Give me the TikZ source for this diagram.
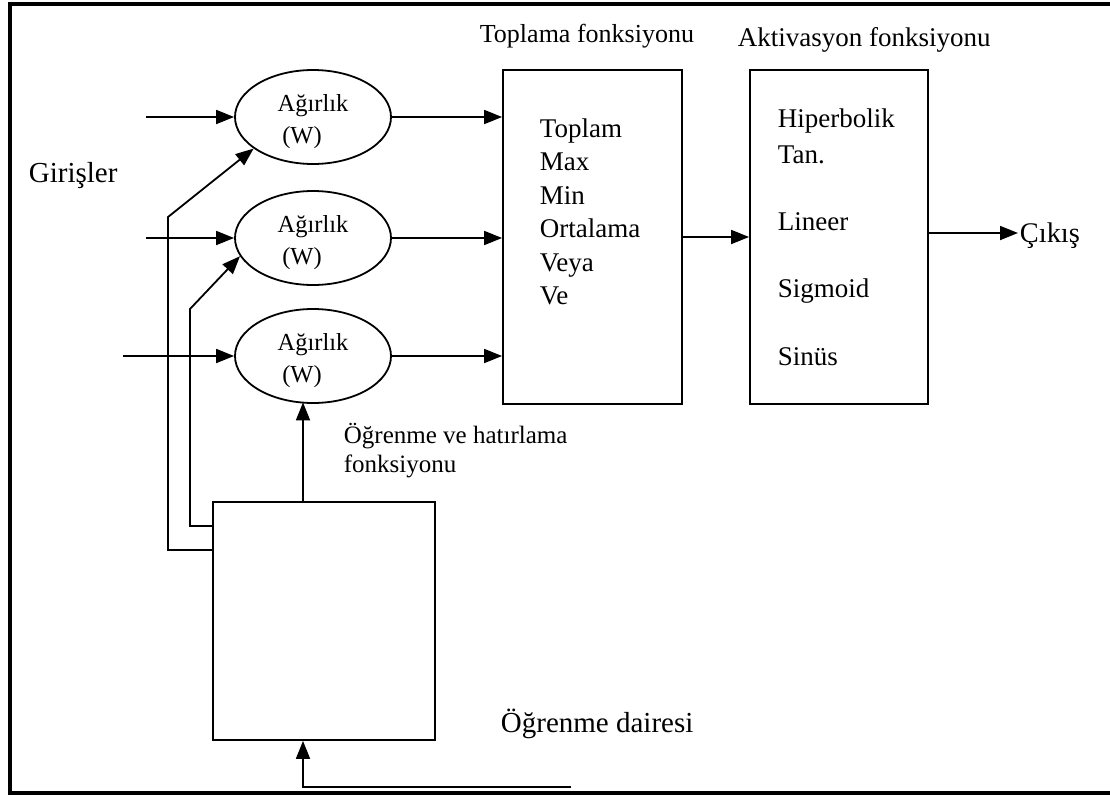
\documentclass[tikz,border=0pt]{standalone}
\usepackage{fontspec}
\setmainfont{Liberation Serif}
\usetikzlibrary{arrows.meta,shapes.geometric,calc}

\begin{document}
\begin{tikzpicture}[x=1pt,y=-1pt,
  line width=1.8pt,
  arr/.style={-{Triangle[length=18pt,width=14pt]}},
  wnode/.style={draw,ellipse,minimum width=156pt,minimum height=94pt,inner sep=0pt,
    align=center,font=\fontsize{24.5}{32}\selectfont},
  box/.style={draw,rectangle,inner sep=0pt},
  lbl/.style={inner sep=0pt,anchor=base west},
  fs/.style={font=\fontsize{#1}{#1}\selectfont},
]
\useasboundingbox (0,0) rectangle (1110,797);

% frame (open on the right)
\draw[line width=3.8pt] (1115,4) -- (10,4) -- (10,793) -- (1115,793);

% weight ellipses
\newcommand\wtext{\rule{0pt}{26.5pt}Ağırlık\\(W)\hspace*{22pt}}
\node[wnode] (w1) at (313,117) {\wtext};
\node[wnode] (w2) at (313,238) {\wtext};
\node[wnode] (w3) at (313,356) {\wtext};

% summation and activation boxes
\node[box,minimum width=179pt,minimum height=334pt] (sum) at (592.5,237) {};
\node[box,minimum width=178pt,minimum height=334pt] (act) at (839,237) {};

% learning box
\node[box,minimum width=222pt,minimum height=238pt] (learn) at (324,621) {};

% free ends
\coordinate (in1) at (146,117);
\coordinate (in2) at (146,238);
\coordinate (in3) at (123,356);
\coordinate (out) at (1018,233);
\coordinate (fb) at (571,787);
\coordinate (lx) at (303,0);

% inputs to weights
\draw[arr] (in1) -- (w1.west);
\draw[arr] (in2) -- (w2.west);
\draw[arr] (in3) -- (w3.west);

% weights to summation
\draw[arr] (w1.east) -- (w1.east -| sum.west);
\draw[arr] (w2.east) -- (w2.east -| sum.west);
\draw[arr] (w3.east) -- (w3.east -| sum.west);

% summation to activation, activation to output
\draw[arr] (sum.east) -- (act.west);
\draw[arr] (act.east |- out) -- (out);

% learning feedback
\draw[arr] (learn.north -| lx) -- ($(w3.south -| lx)+(0,-1.5)$);
\draw[arr] (fb) -- (fb -| lx) -- (learn.south -| lx);
\draw[arr] (learn.west |- 0,526) -- (190,526) -- (190,309) -- (w2.{-166});
\draw[arr] (learn.west |- 0,550) -- (168,550) -- (168,217) -- (w1.{-152});

% texts
\node[lbl,fs=29] (giris) at (28,182) {Girişler};
\node[lbl,fs=26] (tfon) at (479,43) {Toplama fonksiyonu};
\node[lbl,fs=27] (afon) at (737,47) {Aktivasyon fonksiyonu};
\node[lbl,fs=28.4] (cikis) at (1019,242) {Çıkış};

\node[lbl,fs=27] (s1) at (539,137) {Toplam};
\node[lbl,fs=27] (s2) at (539,170) {Max};
\node[lbl,fs=27] (s3) at (539,204) {Min};
\node[lbl,fs=27] (s4) at (539,237) {Ortalama};
\node[lbl,fs=27] (s5) at (539,271) {Veya};
\node[lbl,fs=27] (s6) at (539,304) {Ve};

\node[lbl,fs=27] (a1) at (777,128) {Hiperbolik};
\node[lbl,fs=27] (a2) at (777,163) {Tan.};
\node[lbl,fs=27] (a3) at (777,230) {Lineer};
\node[lbl,fs=27] (a4) at (777,297) {Sigmoid};
\node[lbl,fs=27] (a5) at (777,365) {Sinüs};

\node[lbl,fs=25] (ohf1) at (343,443) {Öğrenme ve hatırlama};
\node[lbl,fs=25] (ohf2) at (343,472) {fonksiyonu};
\node[lbl,fs=29] (od) at (500,732) {Öğrenme dairesi};
\end{tikzpicture}
\end{document}
